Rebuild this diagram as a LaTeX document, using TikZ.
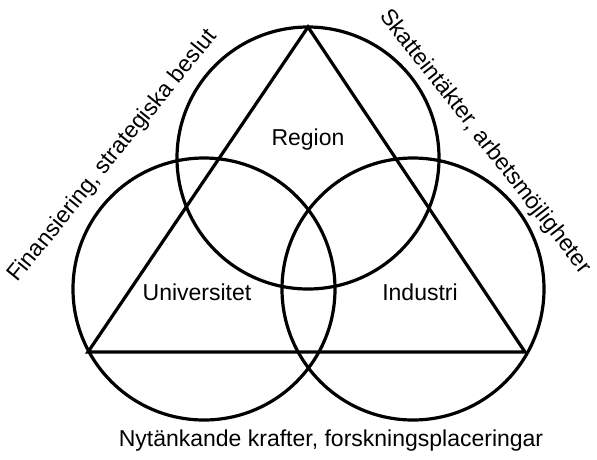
\documentclass[tikz,border=0pt]{standalone}
\usepackage{fontspec}
\setmainfont{Liberation Sans}
\usepackage{tikz}

\tikzset{
	ring/.style={line width=3.2pt},
	lbl/.style={font=\fontsize{23}{27}\selectfont, inner sep=0pt}
}

\begin{document}
\begin{tikzpicture}[x=1pt,y=-1pt]
			\useasboundingbox (0,0) rectangle (597,459);
			
			\coordinate (creg) at (308,158);
			\coordinate (cuni) at (204,289);
			\coordinate (cind) at (413,289);
			\coordinate (top) at (308,27);
			\coordinate (lft) at (88,352);
			\coordinate (rgt) at (525,352);
			
			\draw[ring] (creg) circle (131pt);
			\draw[ring] (cuni) circle (131pt);
			\draw[ring] (cind) circle (131pt);
			\draw[ring, line join=miter] (top) -- (lft) -- (rgt) -- cycle;
			
			\node[lbl] (region) at (308,140) {Region};
			\node[lbl] (univ) at (197,292) {Universitet};
			\node[lbl] (indu) at (420,292) {Industri};
			\node[lbl] (nytank) at (331,441) {Nytänkande krafter, forskningsplaceringar};
			\node[lbl, rotate=51] (finans) at (113,156) {Finansiering, strategiska beslut};
			\node[lbl, rotate=-52] (skatt) at (485,142) {Skatteintäkter, arbetsmöjligheter};
		  \end{tikzpicture}
\end{document}
